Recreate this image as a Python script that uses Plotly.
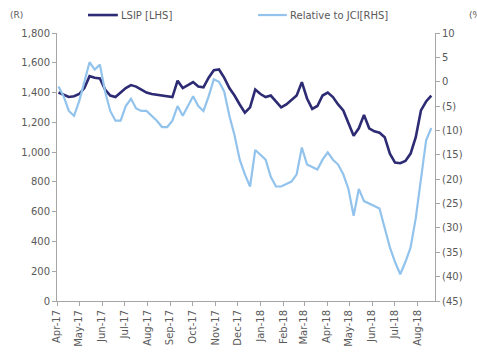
import pandas as pd
import plotly.graph_objects as go

# Weekly observations (Monday closes)
dates = pd.date_range("2017-04-03", periods=73, freq="7D")

# LSIP share price, Rp (left axis)
lsip = [
    1400, 1385, 1370, 1375, 1390, 1430, 1510, 1500, 1495, 1420,
    1380, 1370, 1400, 1430, 1450, 1440, 1420, 1400, 1390, 1385,
    1380, 1375, 1370, 1480, 1430, 1450, 1470, 1440, 1435, 1500,
    1550, 1555, 1500, 1430, 1380, 1320, 1265, 1300, 1420, 1390,
    1370, 1380, 1340, 1300, 1320, 1350, 1380, 1470, 1360, 1290,
    1310, 1380, 1400, 1370, 1320, 1280, 1200, 1110, 1160, 1250,
    1160, 1140, 1130, 1100, 990, 930, 925, 940, 990, 1100,
    1280, 1340, 1380,
]

# Performance relative to JCI, % (right axis)
rel_jci = [
    -1, -3, -6, -7, -4, 0, 4, 2.5, 3.5, -2,
    -6, -8, -8, -5, -3.5, -5.5, -6, -6, -7, -8,
    -9.3, -9.3, -8, -5, -7, -5, -3, -5, -6, -3,
    0.5, 0, -2, -7, -11, -16, -19, -21.5, -14, -15,
    -16, -19.5, -21.5, -21.5, -21, -20.5, -19, -13.5, -17, -17.5,
    -18, -16, -14.5, -16, -17, -19, -22, -27.5, -22, -24.5,
    -25, -25.5, -26, -30, -34, -37, -39.5, -37, -34, -28,
    -20, -12, -9.5,
]

left_ticks = list(range(0, 1801, 200))
right_ticks = list(range(-45, 11, 5))
right_text = [f"({-v})" if v < 0 else str(v) for v in right_ticks]

NAVY = "#2d2b73"
LIGHT = "#92c3ec"
GREY = "#595959"
AXIS = "#a6a6a6"
FONT = "DejaVu Sans"

fig = go.Figure()
fig.add_trace(go.Scatter(
    x=dates, y=rel_jci, name="Relative to JCI[RHS]", yaxis="y2",
    mode="lines", line=dict(color=LIGHT, width=2.2), showlegend=False,
))
fig.add_trace(go.Scatter(
    x=dates, y=lsip, name="LSIP [LHS]", yaxis="y",
    mode="lines", line=dict(color=NAVY, width=2.6), showlegend=False,
))

axis_common = dict(
    showgrid=False, zeroline=False,
    showline=True, linecolor=AXIS, linewidth=1,
    ticks="outside", ticklen=4, tickcolor=AXIS,
    tickfont=dict(size=10, color=GREY),
    automargin=False,
)

# Legend row above the plot: swatch line + label for each series
LEG_Y = 1.067
legend_items = [
    ("LSIP [LHS]", NAVY, 2.6, 0.082, 0.161),
    ("Relative to JCI[RHS]", LIGHT, 2.2, 0.532, 0.608),
]
shapes = []
annotations = []
for label, color, width, x0, x1 in legend_items:
    shapes.append(dict(type="line", xref="paper", yref="paper",
                       x0=x0, x1=x1, y0=LEG_Y, y1=LEG_Y,
                       line=dict(color=color, width=width)))
    annotations.append(dict(text=label, xref="paper", yref="paper",
                            x=x1 + 0.003, y=LEG_Y, xanchor="left",
                            yanchor="middle", showarrow=False,
                            font=dict(size=10, color=GREY)))

annotations += [
    dict(text="(R)", xref="paper", yref="paper", x=-0.106, y=LEG_Y,
         xanchor="center", yanchor="middle", showarrow=False,
         font=dict(size=9, color=GREY)),
    dict(text="(%)", xref="paper", yref="paper", x=1.085, y=LEG_Y,
         xanchor="left", yanchor="middle", showarrow=False,
         font=dict(size=9, color=GREY)),
]

fig.update_layout(
    width=477, height=354,
    margin=dict(l=57, r=42, t=33, b=53),
    paper_bgcolor="white", plot_bgcolor="white",
    font=dict(family=FONT, size=10, color=GREY),
    showlegend=False,
    xaxis=dict(
        range=["2017-04-01", "2018-08-25"],
        tickmode="linear", tick0="2017-04-01", dtick="M1",
        tickformat="%b-%y", tickangle=-90,
        **axis_common,
    ),
    yaxis=dict(
        range=[0, 1800], tickvals=left_ticks, tickformat=",",
        **axis_common,
    ),
    yaxis2=dict(
        range=[-45, 10], tickvals=right_ticks, ticktext=right_text,
        overlaying="y", side="right",
        **axis_common,
    ),
    shapes=shapes,
    annotations=annotations,
)

fig.write_html("out.html")
